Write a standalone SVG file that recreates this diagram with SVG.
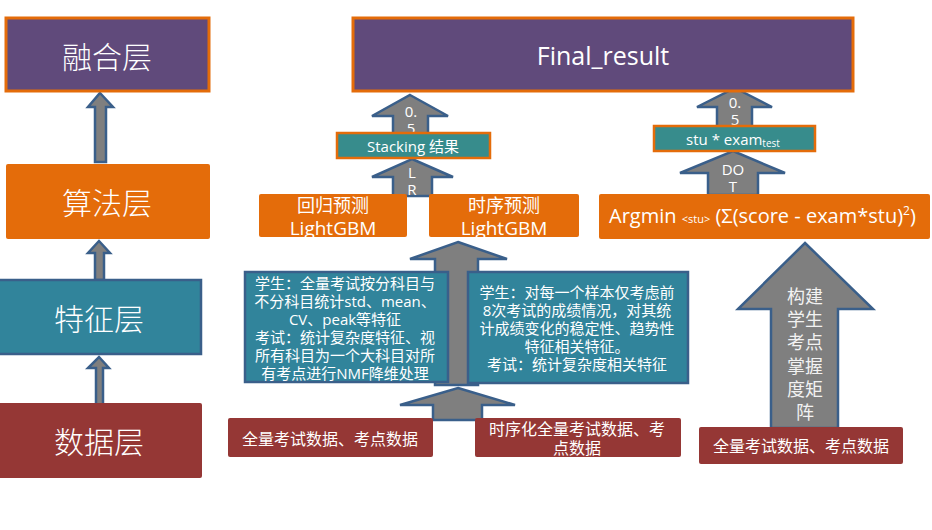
<svg xmlns="http://www.w3.org/2000/svg" width="932" height="530" viewBox="0 0 932 530">
<style>
.purple{fill:#604A7B;stroke:#E46C0A;stroke-width:3}
.orange{fill:#E46C0A}
.teal{fill:#31849B;stroke:#3A5F8A;stroke-width:2.5}
.teal2{fill:#378C8C;stroke:#E46C0A;stroke-width:2.5}
.red{fill:#953735}
.arrow{fill:#7F7F7F;stroke:#3A5F8A;stroke-width:2.5;stroke-linejoin:miter}
.t{fill:#FFFFFF;font-family:"Open Sans","Noto Sans CJK SC",sans-serif;text-anchor:middle;dominant-baseline:central}
.big{font-size:30px;font-family:"Noto Sans CJK SC",sans-serif;font-weight:300}
.s15{font-size:15px}
.s16{font-size:16px}
.s18{font-size:18px}
.s20{font-size:19px}
.lbl{fill:#FFFFFF;font-family:"Open Sans","Noto Sans CJK SC",sans-serif;text-anchor:middle;dominant-baseline:central;font-size:15px}
</style>
<g id="connectors">
<path class="arrow" d="M100,93 L113,107 L106,107 L106,162 L95,162 L95,107 L88,107 Z"/>
<path class="arrow" d="M99,241 L110,253 L104,253 L104,280 L95,280 L95,253 L88,253 Z"/>
<path class="arrow" d="M99,357 L109,368 L103,368 L103,405 L96,405 L96,368 L88,368 Z"/>
<path class="arrow" d="M410,95 L448,116 L428,116 L428,134 L393,134 L393,116 L372,116 Z"/>
<text class="lbl" x="411" y="111">0.</text>
<text class="lbl" x="411" y="128">5</text>
<path class="arrow" d="M412,159 L453,177 L432,177 L432,196 L393,196 L393,177 L372,177 Z"/>
<text class="lbl" x="412" y="172">L</text>
<text class="lbl" x="412" y="189">R</text>
<path class="arrow" d="M458,242 L507,259 L478,259 L478,385 L435,385 L435,259 L410,259 Z"/>
<path class="arrow" d="M458,388 L515,405 L482,405 L482,420 L433,420 L433,405 L400,405 Z"/>
<path class="arrow" d="M735,88 L772,107 L752,107 L752,127 L717,127 L717,107 L697,107 Z"/>
<text class="lbl" x="735" y="102">0.</text>
<text class="lbl" x="735" y="119">5</text>
<path class="arrow" d="M733,151 L785,173 L758,173 L758,195 L708,195 L708,173 L680,173 Z"/>
<text class="lbl" x="733" y="169">DO</text>
<text class="lbl" x="733" y="186">T</text>
<path class="arrow" d="M805,243 L873,309 L838,309 L838,428 L771,428 L771,309 L738,309 Z"/>
<g class="lbl" style="font-size:18px;font-family:'Noto Sans CJK SC',sans-serif;fill:#F2F2F2">
<text x="805" y="295">构建</text>
<text x="805" y="318">学生</text>
<text x="805" y="341">考点</text>
<text x="805" y="365">掌握</text>
<text x="805" y="388">度矩</text>
<text x="805" y="411">阵</text>
</g>
</g>
<g id="fusion-layer">
<rect class="purple" x="6" y="18" width="203" height="73"/>
<text class="t big" x="107" y="55">融合层</text>
</g>
<g id="algo-layer">
<rect class="orange" x="6" y="164" width="204" height="75" rx="2"/>
<text class="t big" x="107" y="201">算法层</text>
</g>
<g id="feature-layer">
<rect class="teal" x="-2" y="280" width="203" height="74"/>
<text class="t big" x="99" y="317">特征层</text>
</g>
<g id="data-layer">
<rect class="red" x="-2" y="403" width="204" height="75" rx="2"/>
<text class="t big" x="99" y="440">数据层</text>
</g>
<g id="final-result">
<rect class="purple" x="353" y="18" width="500" height="73"/>
<text class="t" x="603" y="55" style="font-size:25px">Final_result</text>
</g>
<g id="stacking">
<rect class="teal2" x="337" y="133" width="153" height="25"/>
<text class="t s15" x="413" y="146">Stacking 结果</text>
</g>
<g id="regression">
<rect class="orange" x="259" y="194" width="148" height="43" rx="2"/>
<text class="t s18" x="333" y="205">回归预测</text>
<text class="t s20" x="333" y="228">LightGBM</text>
</g>
<g id="timeseries">
<rect class="orange" x="429" y="194" width="150" height="43" rx="2"/>
<text class="t s18" x="504" y="205">时序预测</text>
<text class="t s20" x="504" y="228">LightGBM</text>
</g>
<g id="stu-exam">
<rect class="teal2" x="654" y="126" width="161" height="25"/>
<text class="t s15" x="733" y="139">stu * exam<tspan style="font-size:10px" dy="4">test</tspan></text>
</g>
<g id="argmin">
<rect class="orange" x="599" y="194" width="331" height="45" rx="2"/>
<text x="609" y="223" style="fill:#fff;font-family:'Open Sans',sans-serif;font-size:20px">Argmin <tspan style="font-size:11px">&lt;stu&gt;</tspan> (Σ(score - exam*stu)<tspan style="font-size:12px" dy="-8">2</tspan><tspan dy="8">)</tspan></text>
</g>
<g id="feature-student-exam">
<rect class="teal" x="245" y="272" width="203" height="110"/>
<g class="t s15">
<text x="345" y="283">学生：全量考试按分科目与</text>
<text x="345" y="301">不分科目统计std、mean、</text>
<text x="345" y="319">CV、peak等特征</text>
<text x="345" y="337">考试：统计复杂度特征、视</text>
<text x="345" y="355">所有科目为一个大科目对所</text>
<text x="345" y="373">有考点进行NMF降维处理</text>
</g>
</g>
<g id="feature-timeseries">
<rect class="teal" x="468" y="272" width="220" height="111"/>
<g class="t s15">
<text x="577" y="292">学生：对每一个样本仅考虑前</text>
<text x="577" y="310">8次考试的成绩情况，对其统</text>
<text x="577" y="328">计成绩变化的稳定性、趋势性</text>
<text x="577" y="346">特征相关特征。</text>
<text x="577" y="364">考试：统计复杂度相关特征</text>
</g>
</g>
<g id="data-full">
<rect class="red" x="228" y="418" width="205" height="39" rx="2"/>
<text class="t s16" x="330" y="439">全量考试数据、考点数据</text>
</g>
<g id="data-timeseries">
<rect class="red" x="475" y="418" width="206" height="39" rx="2"/>
<text class="t s16" x="577" y="429">时序化全量考试数据、考</text>
<text class="t s16" x="577" y="448">点数据</text>
</g>
<g id="data-full-2">
<rect class="red" x="699" y="427" width="204" height="37" rx="2"/>
<text class="t s16" x="801" y="446">全量考试数据、考点数据</text>
</g>
</svg>
